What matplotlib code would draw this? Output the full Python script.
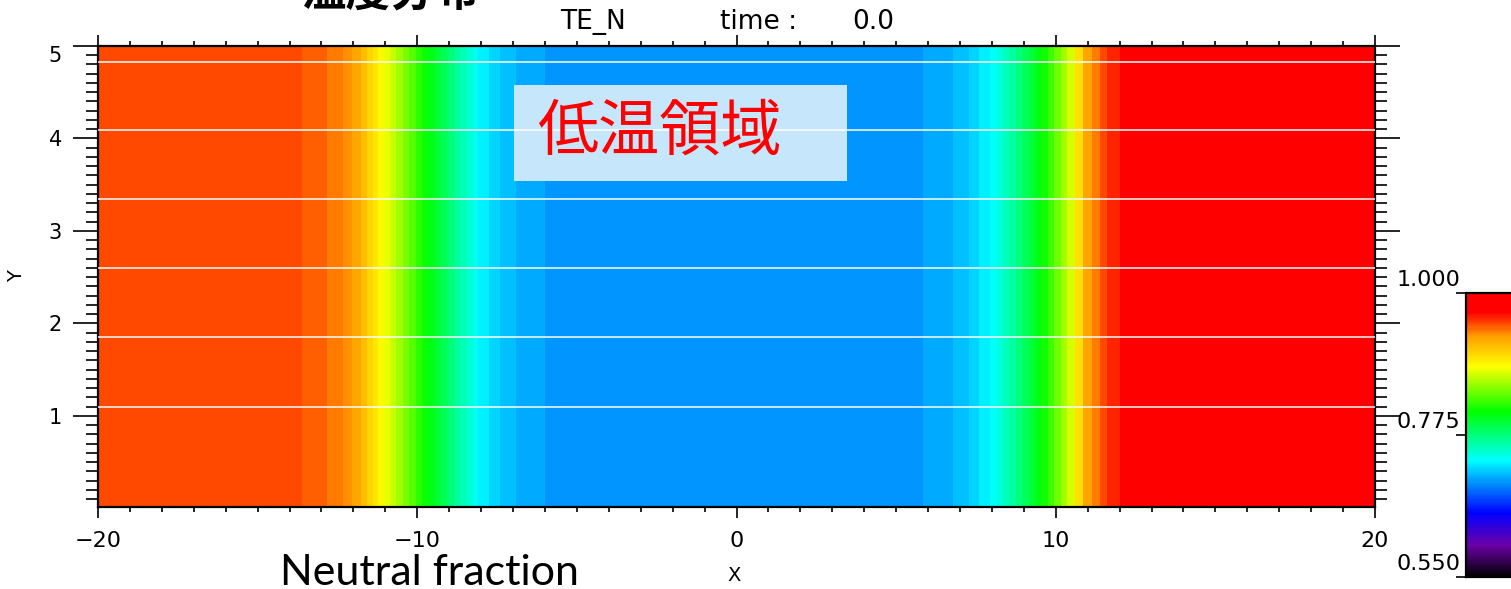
import matplotlib
matplotlib.use("Agg")
import matplotlib.pyplot as plt
import numpy as np
from matplotlib.colors import LinearSegmentedColormap, Normalize
from matplotlib.patches import Rectangle
from matplotlib.ticker import MultipleLocator

plt.rcParams['font.family'] = ['DejaVu Sans', 'Noto Sans CJK JP']

# ---- data ----
x_edges = [-20, -13.62, -12.84, -12.34, -12.05, -11.76, -11.56, -11.38, -11.22, -11.06,
           -10.85, -10.65, -10.45, -10.25, -10.05, -9.85, -9.65, -9.45, -9.25, -9.05,
           -8.85, -8.65, -8.45, -8.25, -8.10, -7.75, -7.41, -6.92, -6.00,
           5.83, 6.79, 7.28, 7.61, 7.94,
           8.15, 8.35, 8.55, 8.75, 8.95, 9.15, 9.35, 9.55, 9.75, 9.95,
           10.15, 10.35, 10.60, 10.86, 11.15, 11.38, 11.62, 12.0, 20]
neutral_fraction = [0.951, 0.946, 0.940, 0.934, 0.927, 0.916, 0.905, 0.895, 0.886,
                    0.878, 0.868, 0.857, 0.846, 0.835, 0.824, 0.814, 0.805, 0.795, 0.786,
                    0.776, 0.766, 0.757, 0.748, 0.739, 0.731, 0.722, 0.714, 0.707,
                    0.701,
                    0.707, 0.714, 0.722, 0.731,
                    0.738, 0.746, 0.755, 0.764, 0.774, 0.784, 0.795, 0.806, 0.817, 0.829,
                    0.842, 0.856, 0.872, 0.899, 0.928, 0.940, 0.951, 0.960, 0.985]
y_edges = [0.0, 5.2]
line_y = [1.10, 1.85, 2.60, 3.35, 4.09, 4.83]
x_ticks = [-20, -10, 0, 10, 20]
y_ticks = [1, 2, 3, 4, 5]
cbar_ticks = [0.550, 0.775, 1.000]
vmin, vmax = 0.55, 1.0

# IDL-like rainbow + black colormap
anchors = [(0.550, (0, 0, 0)), (0.600, (0.42, 0, 0.66)), (0.651, (0, 0, 1)),
           (0.735, (0, 1, 1)), (0.812, (0, 1, 0)), (0.884, (1, 1, 0)),
           (0.931, (1, 0.63, 0)), (0.970, (1, 0, 0)), (1.0, (1, 0, 0))]
cmap = LinearSegmentedColormap.from_list(
    "idl39", [((v - vmin) / (vmax - vmin), c) for v, c in anchors])
norm = Normalize(vmin, vmax)

W, H = 1511, 589
fig = plt.figure(figsize=(W / 100, H / 100), dpi=100)
fig.patch.set_facecolor('white')
ax = fig.add_axes([98 / W, 1 - 507 / H, (1375 - 98) / W, (507 - 46) / H])

C = np.array(neutral_fraction)[None, :]
mesh = ax.pcolormesh(x_edges, y_edges, C, cmap=cmap, norm=norm, shading='flat')
for yv in line_y:
    ax.axhline(yv, color='white', lw=1.2, alpha=0.9, zorder=3)

ax.set_xlim(-20, 20)
ax.set_ylim(0.015, 5.0)
ax.set_xticks(x_ticks)
ax.set_xticklabels([str(t).replace('-', '\u2212') for t in x_ticks])
ax.set_yticks(y_ticks)
ax.xaxis.set_minor_locator(MultipleLocator(1))
ax.yaxis.set_minor_locator(MultipleLocator(0.1))
ax.tick_params(axis='x', which='major', direction='out', length=8, width=1.2,
               top=True, labelsize=16, pad=9)
ax.tick_params(axis='x', which='minor', direction='out', length=3.6, width=1.2, top=True)
ax.tick_params(axis='y', which='major', direction='out', length=18, width=1.2,
               right=True, labelsize=15, pad=8)
ax.tick_params(axis='y', which='minor', direction='out', length=8.6, width=1.2, right=True)
for sp in ax.spines.values():
    sp.set_linewidth(1.6)
fig.canvas.draw()
ax.get_yticklabels()[-1].set_va('top')

ax.set_xlabel('X', fontsize=14)
ax.set_ylabel('Y', fontsize=14)
ax.xaxis.set_label_coords(0.498, -0.128)
ax.yaxis.set_label_coords(-0.056, 0.5)

# annotation box
ax.add_patch(Rectangle((-6.97, 3.54), 10.43, 1.04, facecolor='#C6E6FB',
                       edgecolor='none', zorder=2))
ax.text(-6.25, 4.07, '低温領域', color='#FF0000', fontsize=44,
        family=['Noto Sans CJK JP'], va='center', ha='left', zorder=4)

# title texts
fig.text(560 / W, 1 - 22 / H, 'TE_N', fontsize=19, va='center', ha='left')
fig.text(720 / W, 1 - 22 / H, 'time :', fontsize=19, va='center', ha='left')
fig.text(852 / W, 1 - 22 / H, '0.0', fontsize=19, va='center', ha='left')
fig.text(302 / W, 1 - 7 / H, '温度分布', fontsize=32, va='baseline', ha='left',
         family=['Noto Sans CJK JP'], fontweight='bold')
fig.text(280 / W, 4 / H, 'Neutral fraction', fontsize=31, va='baseline', ha='left',
         family=['Lato'])

# colorbar
cax = fig.add_axes([1466 / W, 1 - 577 / H, 70 / W, (577 - 293) / H])
cb = fig.colorbar(mesh, cax=cax, ticks=cbar_ticks)
cax.yaxis.set_ticks_position('left')
cax.tick_params(axis='y', direction='out', length=7, width=1.2, labelleft=False,
                labelright=False)
cb.outline.set_linewidth(1.6)
for v in cbar_ticks:
    cax.annotate(f'{v:.3f}', xy=(0, v), xycoords=('axes fraction', 'data'),
                 xytext=(-6, 3), textcoords='offset pixels', ha='right', va='bottom',
                 fontsize=16)

fig.savefig('out.png', dpi=100)
